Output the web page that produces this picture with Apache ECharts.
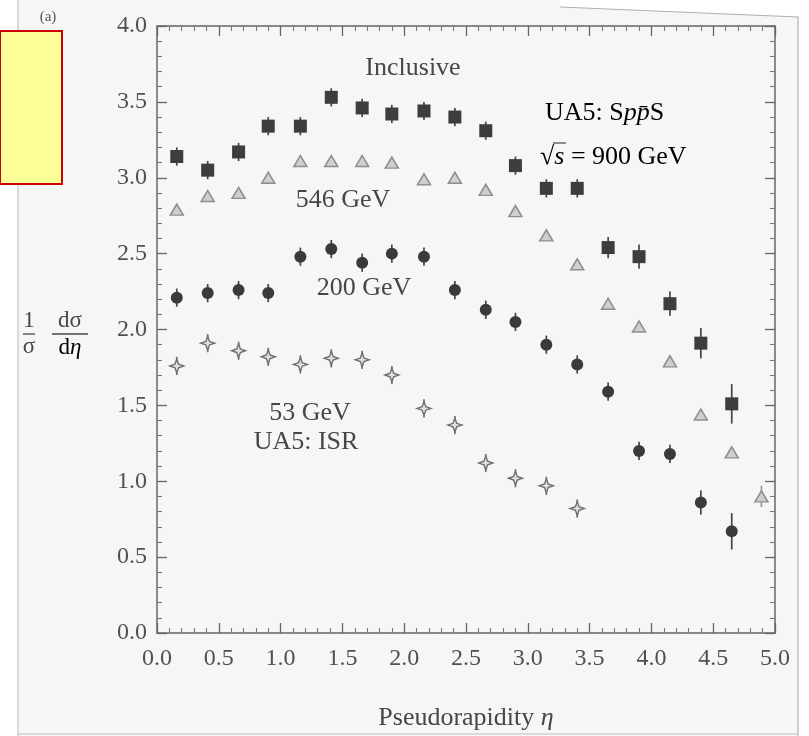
<!DOCTYPE html>
<html>
<head>
<meta charset="utf-8">
<script src="https://cdn.jsdelivr.net/npm/echarts@6/dist/echarts.min.js"></script>
<style>html,body{margin:0;padding:0;background:#f6f6f4;}#c{width:809px;height:736px;}</style>
</head>
<body>
<div id="c"></div>
<script>
// ---- data ----
const etaSq  = [0.16,0.41,0.66,0.9,1.16,1.41,1.66,1.9,2.16,2.41,2.66,2.9,3.15,3.4,3.65,3.9,4.15,4.4,4.65];
const ySq    = [3.14,3.05,3.17,3.34,3.34,3.53,3.46,3.42,3.44,3.40,3.31,3.08,2.93,2.93,2.54,2.48,2.17,1.91,1.51];
const eSq    = [0.06,0.06,0.06,0.06,0.06,0.06,0.06,0.06,0.06,0.06,0.06,0.06,0.06,0.06,0.07,0.08,0.08,0.10,0.13];

const etaTri = [0.16,0.41,0.66,0.9,1.16,1.41,1.66,1.9,2.16,2.41,2.66,2.9,3.15,3.4,3.65,3.9,4.15,4.4,4.65,4.89];
const yTri   = [2.79,2.88,2.90,3.00,3.11,3.11,3.11,3.10,2.99,3.00,2.92,2.78,2.62,2.43,2.17,2.02,1.79,1.44,1.19,0.90];
const eTri   = [0,0,0,0,0,0,0,0,0,0,0,0,0,0,0,0,0,0,0,0.07];

const etaCir = [0.16,0.41,0.66,0.9,1.16,1.41,1.66,1.9,2.16,2.41,2.66,2.9,3.15,3.4,3.65,3.9,4.15,4.4,4.65];
const yCir   = [2.21,2.24,2.26,2.24,2.48,2.53,2.44,2.50,2.48,2.26,2.13,2.05,1.90,1.77,1.59,1.20,1.18,0.86,0.67];
const eCir   = [0.06,0.06,0.06,0.06,0.06,0.06,0.06,0.06,0.06,0.06,0.06,0.06,0.06,0.06,0.06,0.06,0.06,0.08,0.12];

const etaDia = [0.16,0.41,0.66,0.9,1.16,1.41,1.66,1.9,2.16,2.41,2.66,2.9,3.15,3.4];
const yDia   = [1.76,1.91,1.86,1.82,1.77,1.81,1.80,1.70,1.48,1.37,1.12,1.02,0.97,0.82];
const eDia   = [0.06,0.06,0.06,0.06,0.06,0.06,0.06,0.06,0.06,0.06,0.06,0.06,0.06,0.06];

const xTicks = [0.0,0.5,1.0,1.5,2.0,2.5,3.0,3.5,4.0,4.5,5.0];
const yTicks = [0.0,0.5,1.0,1.5,2.0,2.5,3.0,3.5,4.0];

// ---- build ----
const SERIF = '"Liberation Serif","DejaVu Serif",serif';
const TXT = '#474747';
function pts(xs, ys){ return xs.map((x,i)=>[x, ys[i]]); }
function errs(xs, ys, es){ return xs.map((x,i)=>[x, ys[i], es[i]]); }
function errSeries(data, color){
  return {
    type:'custom', silent:true, z:2,
    data:data,
    renderItem:function(params, api){
      const e = api.value(2);
      if(!e) return null;
      const p1 = api.coord([api.value(0), api.value(1)-e]);
      const p2 = api.coord([api.value(0), api.value(1)+e]);
      return {type:'line', shape:{x1:p1[0],y1:p1[1],x2:p2[0],y2:p2[1]}, style:{stroke:color, lineWidth:1.7}};
    }
  };
}
const star = 'path://M0,-7 L1.8,-1.8 L7,0 L1.8,1.8 L0,7 L-1.8,1.8 L-7,0 L-1.8,-1.8 Z';

const chart = echarts.init(document.getElementById('c'), null, {renderer:'canvas'});
const axisCommon = {
  min:0, interval:0.5,
  axisLine:{show:true, onZero:false, lineStyle:{color:'#666', width:1.5}},
  axisTick:{show:true, inside:true, length:10, lineStyle:{color:'#666', width:1.3}},
  minorTick:{show:true, splitNumber:5, length:5, lineStyle:{color:'#777', width:1.1}},
  splitLine:{show:false}
};
chart.setOption({
  backgroundColor:'#f6f6f4',
  animation:false,
  grid:{left:157, right:34, top:26, bottom:91},
  xAxis:[
    Object.assign({}, axisCommon, {
      type:'value', max:5, position:'bottom',
      axisLabel:{show:true, margin:14, color:'#505050', fontFamily:SERIF, fontSize:24,
        formatter:v=> (xTicks.indexOf(v)>=0 ? v.toFixed(1) : '')},
      name:'{n|Pseudorapidity }{i|η}', nameLocation:'middle', nameGap:72,
      nameTextStyle:{rich:{n:{fontFamily:SERIF,fontSize:26,color:TXT}, i:{fontFamily:SERIF,fontSize:26,fontStyle:'italic',color:TXT}}}
    }),
    Object.assign({}, axisCommon, {type:'value', max:5, position:'top', axisLabel:{show:false}})
  ],
  yAxis:[
    Object.assign({}, axisCommon, {
      type:'value', max:4, position:'left',
      axisLabel:{show:true, margin:10, color:'#505050', fontFamily:SERIF, fontSize:24,
        formatter:v=> (yTicks.indexOf(v)>=0 ? v.toFixed(1) : '')}
    }),
    Object.assign({}, axisCommon, {type:'value', max:4, position:'right', axisLabel:{show:false}})
  ],
  series:[
    errSeries(errs(etaSq,ySq,eSq), '#444'),
    errSeries(errs(etaTri,yTri,eTri), '#999'),
    errSeries(errs(etaCir,yCir,eCir), '#444'),
    errSeries(errs(etaDia,yDia,eDia), '#777'),
    {type:'scatter', name:'900 GeV', data:pts(etaSq,ySq), symbol:'rect', symbolSize:13, z:3,
      itemStyle:{color:'#3d3d3d', opacity:1}},
    {type:'scatter', name:'546 GeV', data:pts(etaTri,yTri), symbol:'triangle', symbolSize:[13,11], z:3,
      itemStyle:{color:'#cfcfcf', borderColor:'#8e8e8e', borderWidth:1.5, opacity:1}},
    {type:'scatter', name:'200 GeV', data:pts(etaCir,yCir), symbol:'circle', symbolSize:12, z:3,
      itemStyle:{color:'#3a3a3a', opacity:1}},
    {type:'scatter', name:'53 GeV', data:pts(etaDia,yDia), symbol:star, symbolSize:14, z:3,
      itemStyle:{color:'#e0e0e0', borderColor:'#6e6e6e', borderWidth:1.4, opacity:1}}
  ],
  graphic:[
    // scan borders
    {type:'rect', z:-10, shape:{x:0,y:0,width:18,height:736}, style:{fill:'#ffffff'}},
    {type:'line', z:-9, shape:{x1:18,y1:0,x2:18,y2:736}, style:{stroke:'#b8b8b8', lineWidth:1}},
    {type:'polygon', z:-10, shape:{points:[[560,0],[809,0],[809,736],[798,736],[798,17],[560,7]]}, style:{fill:'#ffffff'}},
    {type:'polyline', z:-9, shape:{points:[[560,7],[798,17],[798,736]]}, style:{stroke:'#b0b0b0', lineWidth:1.2, fill:null}},
    {type:'line', z:-9, shape:{x1:18,y1:734,x2:798,y2:734}, style:{stroke:'#c0c0c0', lineWidth:1}},
    // yellow box
    {type:'rect', z:10, shape:{x:0,y:31,width:62,height:153}, style:{fill:'#ffff99', stroke:'#cc0000', lineWidth:2}},
    {type:'text', style:{text:'(a)', x:48, y:17, font:'15px '+SERIF, fill:'#555', textAlign:'center', textVerticalAlign:'middle'}},
    // y-axis label fraction
    {type:'text', style:{text:'1', x:29, y:321, font:'23px '+SERIF, fill:TXT, textAlign:'center', textVerticalAlign:'middle'}},
    {type:'line', shape:{x1:23,y1:334,x2:35,y2:334}, style:{stroke:TXT, lineWidth:1.3}},
    {type:'text', style:{text:'σ', x:29, y:347, font:'23px '+SERIF, fill:TXT, textAlign:'center', textVerticalAlign:'middle'}},
    {type:'text', style:{text:'dσ', x:70, y:321, font:'23px '+SERIF, fill:TXT, textAlign:'center', textVerticalAlign:'middle'}},
    {type:'line', shape:{x1:52,y1:334,x2:88,y2:334}, style:{stroke:TXT, lineWidth:1.3}},
    {type:'text', style:{text:'{n|d}{i|η}', x:70, y:348, textAlign:'center', textVerticalAlign:'middle',
      rich:{n:{fontFamily:SERIF,fontSize:23,color:TXT}, i:{fontFamily:SERIF,fontSize:23,fontStyle:'italic',color:TXT}}}},
    // annotations
    {type:'text', style:{text:'Inclusive', x:413, y:68, font:'26px '+SERIF, fill:TXT, textAlign:'center', textVerticalAlign:'middle'}},
    {type:'text', style:{text:'{n|UA5: S}{i|pp̄}{n|S}', x:545, y:113, textAlign:'left', textVerticalAlign:'middle',
      rich:{n:{fontFamily:SERIF,fontSize:26,color:TXT}, i:{fontFamily:SERIF,fontSize:26,fontStyle:'italic',color:TXT}}}},
    {type:'text', style:{text:'{n|√}{i|s}{n| = 900 GeV}', x:540, y:157, textAlign:'left', textVerticalAlign:'middle',
      rich:{n:{fontFamily:SERIF,fontSize:26,color:TXT}, i:{fontFamily:SERIF,fontSize:26,fontStyle:'italic',color:TXT}}}},
    {type:'line', shape:{x1:553,y1:143,x2:566,y2:143}, style:{stroke:TXT, lineWidth:1.2}},
    {type:'text', style:{text:'546 GeV', x:343, y:200, font:'26px '+SERIF, fill:TXT, textAlign:'center', textVerticalAlign:'middle'}},
    {type:'text', style:{text:'200 GeV', x:364, y:288, font:'26px '+SERIF, fill:TXT, textAlign:'center', textVerticalAlign:'middle'}},
    {type:'text', style:{text:'53 GeV', x:310, y:413, font:'26px '+SERIF, fill:TXT, textAlign:'center', textVerticalAlign:'middle'}},
    {type:'text', style:{text:'UA5: ISR', x:306, y:442, font:'26px '+SERIF, fill:TXT, textAlign:'center', textVerticalAlign:'middle'}}
  ]
});
</script>
</body>
</html>
